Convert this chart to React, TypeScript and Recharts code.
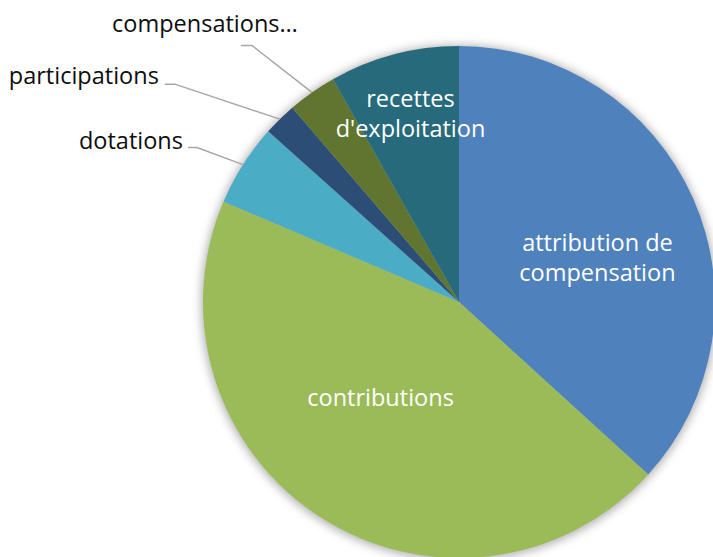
import { PieChart, Pie, Cell } from "recharts";

const categories = [
  "attribution de compensation",
  "contributions",
  "dotations",
  "participations",
  "compensations…",
  "recettes d'exploitation",
];
const shares = [36.8, 44.7, 5.2, 2.1, 3.1, 8.2];
const colors = ["#4F81BD", "#9BBB59", "#4BACC6", "#2C4D75", "#5F7530", "#276A7C"];

const data = categories.map((name, i) => ({ name, value: shares[i] }));

// label layout: inside labels sit on a fraction of the radius, outside labels use a leader line
type InsideLayout = { kind: "inside"; lines: string[]; r: number; nx: number; ny: number };
type OutsideLayout = {
  kind: "outside";
  elbow: [number, number];
  run: number;
  anchor: "end" | "middle";
  tx: number;
  ty: number;
};
const labelLayout: Record<string, InsideLayout | OutsideLayout> = {
  "attribution de compensation": { kind: "inside", lines: ["attribution de", "compensation"], r: 0.57, nx: 5, ny: 14 },
  contributions: { kind: "inside", lines: ["contributions"], r: 0.48, nx: -12, ny: -8 },
  dotations: { kind: "outside", elbow: [-46, -17], run: 9, anchor: "end", tx: -5, ty: 1 },
  participations: { kind: "outside", elbow: [-105, -35], run: 10, anchor: "end", tx: -6, ty: 0 },
  "compensations…": { kind: "outside", elbow: [-60, -47], run: 11, anchor: "middle", tx: -36, ty: -13 },
  "recettes d'exploitation": { kind: "inside", lines: ["recettes", "d'exploitation"], r: 0.76, nx: 1, ny: -1 },
};

const RADIAN = Math.PI / 180;
const FONT = "'Open Sans', sans-serif";
const FONT_SIZE = 23.5;
const LINE_H = 30;

const renderLabel = (props: any) => {
  const { cx, cy, midAngle, outerRadius, name } = props;
  const layout = labelLayout[name];
  if (!layout) return null;
  const cos = Math.cos(-midAngle * RADIAN);
  const sin = Math.sin(-midAngle * RADIAN);

  if (layout.kind === "inside") {
    const r = outerRadius * layout.r;
    const x = cx + r * cos + layout.nx;
    const y = cy + r * sin + layout.ny;
    const top = y - ((layout.lines.length - 1) * LINE_H) / 2;
    return (
      <text
        x={x}
        y={top}
        fill="#FFFFFF"
        textAnchor="middle"
        dominantBaseline="central"
        fontFamily={FONT}
        fontSize={FONT_SIZE}
      >
        {layout.lines.map((line, i) => (
          <tspan key={i} x={x} dy={i === 0 ? 0 : LINE_H}>
            {line}
          </tspan>
        ))}
      </text>
    );
  }

  const sx = cx + outerRadius * cos;
  const sy = cy + outerRadius * sin;
  const ex = sx + layout.elbow[0];
  const ey = sy + layout.elbow[1];
  const lx = ex - layout.run;
  return (
    <g>
      <polyline
        points={`${sx},${sy} ${ex},${ey} ${lx},${ey}`}
        fill="none"
        stroke="#A6A6A6"
        strokeWidth={1.5}
      />
      <text
        x={lx + layout.tx}
        y={ey + layout.ty}
        fill="#0D0D0D"
        textAnchor={layout.anchor}
        fontFamily={FONT}
        fontSize={FONT_SIZE}
      >
        {name}
      </text>
    </g>
  );
};

export default function App() {
  return (
    <div style={{ position: "absolute", left: 0, top: 0, width: 713, height: 557, background: "#FFFFFF" }}>
      <style>{`.pie-shadow { filter: blur(3px); }`}</style>
      <PieChart width={713} height={557} margin={{ top: 0, right: 0, bottom: 0, left: 0 }}>
        <Pie
          className="pie-shadow"
          data={data}
          dataKey="value"
          nameKey="name"
          cx={459}
          cy={303}
          outerRadius={258}
          startAngle={90}
          endAngle={-270}
          stroke="none"
          fill="#000000"
          fillOpacity={0.3}
          label={false}
          labelLine={false}
          isAnimationActive={false}
        />
        <Pie
          data={data}
          dataKey="value"
          nameKey="name"
          cx={459}
          cy={302}
          outerRadius={256}
          startAngle={90}
          endAngle={-270}
          stroke="none"
          label={renderLabel}
          labelLine={false}
          isAnimationActive={false}
        >
          {data.map((d, i) => (
            <Cell key={d.name} fill={colors[i]} />
          ))}
        </Pie>
      </PieChart>
    </div>
  );
}
